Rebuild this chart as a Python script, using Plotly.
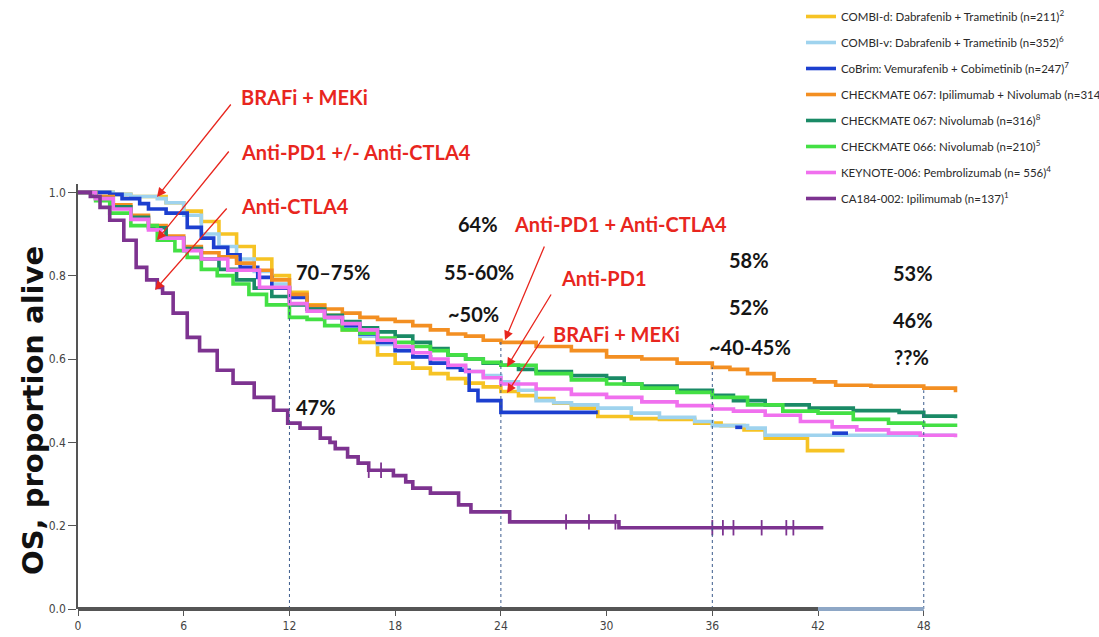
import plotly.graph_objects as go

# ---------------- data ----------------
months_ticks = [0, 6, 12, 18, 24, 30, 36, 42, 48]
surv_ticks = [0.0, 0.2, 0.4, 0.6, 0.8, 1.0]

combi_d_t = [0, 1, 2, 3, 4, 5, 6, 7, 8, 9, 10, 11, 12, 13, 14, 15, 16, 17, 18, 19, 20, 21, 22, 23, 24,
             25, 26, 27, 28, 29.5, 31.4, 33, 35, 36.5, 37.8, 39, 41.4, 43.5]
combi_d_s = [1.0, 1.0, 0.995, 0.99, 0.99, 0.975, 0.955, 0.93, 0.90, 0.87, 0.84, 0.80, 0.76, 0.73, 0.705,
             0.67, 0.64, 0.61, 0.59, 0.578, 0.565, 0.553, 0.542, 0.533, 0.522,
             0.512, 0.505, 0.494, 0.482, 0.462, 0.457, 0.455, 0.446, 0.44, 0.43, 0.41, 0.38, 0.38]

combi_v_t = [0, 1, 2, 3, 4, 4.5, 5, 6, 7, 8, 9, 10, 11, 12, 13, 14, 15, 16, 17, 18, 19, 20, 21, 22, 23,
             24, 25, 26, 27, 28, 29.5, 31.4, 33, 35, 36, 37, 38, 39, 49.8]
combi_v_s = [1.0, 1.0, 0.995, 0.99, 0.99, 0.985, 0.975, 0.945, 0.90, 0.87, 0.84, 0.81, 0.78, 0.75, 0.72,
             0.70, 0.675, 0.655, 0.635, 0.62, 0.605, 0.59, 0.58, 0.57, 0.56,
             0.545, 0.525, 0.50, 0.495, 0.49, 0.482, 0.47, 0.46, 0.45, 0.44, 0.44, 0.434, 0.417, 0.417]

cobrim_t = [0, 1, 1.8, 2.5, 3.5, 4, 5, 6.2, 7, 7.7, 8.5, 9.2, 10.2, 11, 12, 13, 14, 15, 16, 17, 18, 19,
            20, 21, 21.7, 22.2, 22.7, 24, 29.5, None, 37.3, 37.7, None, 42.8, 43.7]
cobrim_s = [1.0, 1.0, 0.995, 0.985, 0.973, 0.96, 0.95, 0.916, 0.89, 0.868, 0.85, 0.82, 0.796, 0.77,
            0.748, 0.72, 0.70, 0.68, 0.66, 0.64, 0.62, 0.605, 0.59, 0.58, 0.573, 0.525, 0.50, 0.472,
            0.472, None, 0.436, 0.436, None, 0.422, 0.422]

cm067_combo_t = [0, 1, 2, 3, 4, 5, 6, 7, 8, 9, 10, 11, 12, 13, 14, 15, 16, 17, 18, 19, 20, 21, 22, 23,
                 24, 26, 28, 30, 32, 34, 36, 37, 38, 39.5, 41.8, 43, 45, 48, 49.8]
cm067_combo_s = [1.0, 0.99, 0.97, 0.945, 0.92, 0.895, 0.87, 0.855, 0.845, 0.83, 0.813, 0.79, 0.755,
                 0.728, 0.72, 0.71, 0.70, 0.695, 0.69, 0.68, 0.67, 0.66, 0.655, 0.645,
                 0.64, 0.63, 0.62, 0.605, 0.60, 0.59, 0.58, 0.575, 0.565, 0.55, 0.545, 0.537, 0.535,
                 0.53, 0.52]

cm067_nivo_t = [0, 1, 2, 3, 4, 5, 6, 7, 8, 9, 10, 11, 12, 13, 14, 15, 16, 17, 18, 19, 20, 21, 22, 23,
                24, 25, 26, 28, 30, 31, 32, 34, 36, 37.2, 39, 41.5, 44, 46.6, 48, 49.8]
cm067_nivo_s = [1.0, 0.985, 0.965, 0.94, 0.915, 0.89, 0.865, 0.84, 0.815, 0.79, 0.77, 0.75, 0.73, 0.72,
                0.705, 0.69, 0.675, 0.665, 0.655, 0.64, 0.625, 0.61, 0.60, 0.59,
                0.585, 0.575, 0.57, 0.56, 0.554, 0.54, 0.535, 0.525, 0.513, 0.50, 0.49, 0.482, 0.476,
                0.472, 0.463, 0.458]

cm066_nivo_t = [0, 1, 1.8, 3, 4.5, 5.5, 6.2, 7, 7.9, 8.8, 9.7, 10.7, 12, 13, 14, 15, 16, 17, 18, 19,
                20, 21, 22, 23, 24, 26, 28, 30, 32, 34, 36, 38, 40, 42, 44, 46, 48, 49.8]
cm066_nivo_s = [1.0, 0.98, 0.95, 0.92, 0.885, 0.86, 0.844, 0.815, 0.80, 0.78, 0.755, 0.73, 0.70, 0.695,
                0.68, 0.67, 0.662, 0.65, 0.64, 0.63, 0.62, 0.61, 0.60, 0.592, 0.585, 0.565, 0.55,
                0.54, 0.53, 0.52, 0.508, 0.49, 0.475, 0.47, 0.455, 0.446, 0.441, 0.437]

kn006_t = [0, 1, 2, 3, 4, 4.7, 6, 7, 8.5, 10.3, 12, 13, 14, 15, 16, 17, 18, 19, 20, 21, 22, 23, 24,
           26, 28, 30, 32, 34, 36, 37.2, 39, 41, 42.8, 44.2, 46, 47.8, 49.8]
kn006_s = [1.0, 0.985, 0.96, 0.935, 0.91, 0.89, 0.86, 0.84, 0.813, 0.772, 0.733, 0.715, 0.70, 0.685,
           0.67, 0.645, 0.63, 0.615, 0.60, 0.585, 0.57, 0.555, 0.54, 0.528, 0.515, 0.508, 0.497,
           0.488, 0.48, 0.475, 0.465, 0.45, 0.437, 0.43, 0.422, 0.417, 0.412]

ca184_t = [0, 0.7, 1.25, 1.8, 2.6, 3.3, 3.9, 4.5, 4.8, 5.4, 6.2, 6.9, 7.9, 8.8, 10, 11.1, 11.9, 12.6,
           13.75, 14.3, 14.6, 15.3, 15.9, 16.5, 17.9, 18.6, 19, 20, 21.6, 22.3, 24.5, 30.7, 42.3]
ca184_s = [1.0, 0.99, 0.964, 0.933, 0.885, 0.82, 0.79, 0.772, 0.758, 0.71, 0.652, 0.62, 0.573, 0.542,
           0.508, 0.477, 0.446, 0.434, 0.41, 0.40, 0.385, 0.365, 0.35, 0.333, 0.32, 0.305, 0.29,
           0.278, 0.25, 0.233, 0.209, 0.195, 0.195]

ca184_cens_t = [16.5, 17.2, 27.7, 29.0, 30.5, 36.0, 36.6, 37.2, 38.8, 40.2, 40.6]
ca184_cens_s = [0.333, 0.333, 0.209, 0.209, 0.209, 0.195, 0.195, 0.195, 0.195, 0.195, 0.195]

ref_months = [12, 24, 36, 48]
ref_tops = [0.76, 0.645, 0.58, 0.525]

series_names = [
    "COMBI-d: Dabrafenib + Trametinib (n=211)<sup>2</sup>",
    "COMBI-v: Dabrafenib + Trametinib (n=352)<sup>6</sup>",
    "CoBrim: Vemurafenib + Cobimetinib (n=247)<sup>7</sup>",
    "CHECKMATE 067: Ipilimumab + Nivolumab (n=314",
    "CHECKMATE 067: Nivolumab (n=316)<sup>8</sup>",
    "CHECKMATE 066: Nivolumab (n=210)<sup>5</sup>",
    "KEYNOTE-006: Pembrolizumab (n= 556)<sup>4</sup>",
    "CA184-002: Ipilimumab (n=137)<sup>1</sup>",
]
series_colors = ["#F6C324", "#9FD3EE", "#1C3FCF", "#F38F22", "#1A8A66", "#43E044", "#F070EE", "#7D3390"]
series_t = [combi_d_t, combi_v_t, cobrim_t, cm067_combo_t, cm067_nivo_t, cm066_nivo_t, kn006_t, ca184_t]
series_s = [combi_d_s, combi_v_s, cobrim_s, cm067_combo_s, cm067_nivo_s, cm066_nivo_s, kn006_s, ca184_s]

# ---------------- figure ----------------
LABEL_FONT = "Lato, DejaVu Sans Condensed, sans-serif"
TICK_FONT = "DejaVu Sans Condensed, Liberation Sans Narrow, sans-serif"
L, R, T, B = 78, 140, 184, 28
W, H = 1099, 637
XR = [0, 50]
YR = [0, 1.02]
pw = W - L - R
ph = H - T - B


def px2paper(px, py):
    return (px - L) / pw, (H - B - py) / ph


def px2data(px, py):
    x = XR[0] + (px - L) / pw * (XR[1] - XR[0])
    y = YR[0] + (H - B - py) / ph * (YR[1] - YR[0])
    return x, y


fig = go.Figure()
for name, col, t, s in zip(series_names, series_colors, series_t, series_s):
    fig.add_trace(go.Scatter(x=t, y=s, mode="lines", name=name, legendgroup=name,
                             line=dict(color=col, width=3.6, shape="hv"), connectgaps=False))

fig.add_trace(go.Scatter(x=ca184_cens_t, y=ca184_cens_s, mode="markers", showlegend=False,
                         marker=dict(symbol="line-ns", size=11, line=dict(color=series_colors[7], width=1.8))))

# reference dashed lines
for m, top in zip(ref_months, ref_tops):
    fig.add_shape(type="line", xref="x", yref="y", x0=m, x1=m, y0=0, y1=top,
                  line=dict(color="#3B5B8C", width=1, dash="3px,3px"), layer="above")

# x-axis line (dark to 42, light steel-blue to 48)
fig.add_shape(type="line", xref="x", yref="paper", x0=0, x1=42, y0=0, y1=0,
              line=dict(color="#555555", width=4), layer="above")
fig.add_shape(type="line", xref="x", yref="paper", x0=42, x1=48, y0=0, y1=0,
              line=dict(color="#8EA7C6", width=4), layer="above")

# red class labels with arrows
red = "#E8261E"
red_labels = [
    ("BRAFi + MEKi", 240, 97),
    ("Anti-PD1 +/- Anti-CTLA4", 240, 152),
    ("Anti-CTLA4", 240, 206),
    ("Anti-PD1 + Anti-CTLA4", 513, 224),
    ("Anti-PD1", 560, 278),
    ("BRAFi + MEKi", 552, 334),
]
for txt, px, py in red_labels:
    x, y = px2paper(px, py)
    fig.add_annotation(x=x, y=y, xref="paper", yref="paper", text="<b>" + txt + "</b>", showarrow=False,
                       xanchor="left", yanchor="middle", borderpad=0,
                       font=dict(family=LABEL_FONT, size=20, color=red))

arrows = [
    ((232, 103), (157, 197)),
    ((230, 150), (157, 240)),
    ((228, 207), (155, 290)),
    ((545, 245), (505, 340)),
    ((552, 293), (507, 367)),
    ((545, 335), (507, 393)),
]
for (sx, sy), (tx, ty) in arrows:
    x, y = px2data(tx, ty)
    fig.add_annotation(x=x, y=y, xref="x", yref="y", text="", showarrow=True,
                       ax=sx - tx, ay=sy - ty, arrowhead=2, arrowsize=1.4, arrowwidth=1.3,
                       arrowcolor=red, standoff=0, startstandoff=0)

black_labels = [
    ("70–75%", 295, 272), ("47%", 295, 407),
    ("64%", 457, 224), ("55-60%", 443, 272), ("~50%", 447, 314),
    ("58%", 728, 260), ("52%", 728, 307), ("~40-45%", 708, 347),
    ("53%", 892, 273), ("46%", 892, 320), ("??%", 893, 357),
]
for txt, px, py in black_labels:
    x, y = px2paper(px, py)
    fig.add_annotation(x=x, y=y, xref="paper", yref="paper", text="<b>" + txt + "</b>", showarrow=False,
                       xanchor="left", yanchor="middle", borderpad=0,
                       font=dict(family=LABEL_FONT, size=20, color="#151515"))

# y-axis title
tx, ty = px2paper(33, 411)
fig.add_annotation(x=tx, y=ty, xref="paper", yref="paper",
                   text="<b>OS, proportion alive</b>", textangle=-90, showarrow=False,
                   xanchor="center", yanchor="middle",
                   font=dict(family="DejaVu Sans, Verdana, sans-serif", size=29, color="#111111"))

fig.update_xaxes(range=XR, tickmode="array", tickvals=months_ticks, ticktext=[str(v) for v in months_ticks],
                 showgrid=False, zeroline=False, showline=False, automargin=False,
                 ticks="outside", ticklen=6, tickwidth=1, tickcolor="#555555",
                 tickfont=dict(family=TICK_FONT, size=12, color="#444444"))
fig.update_yaxes(range=YR, tickmode="array", tickvals=surv_ticks, ticktext=["%.1f" % v for v in surv_ticks],
                 showgrid=False, zeroline=False, showline=True, linecolor="#555555", linewidth=1.5,
                 automargin=False,
                 ticks="outside", ticklen=8, tickwidth=1, tickcolor="#555555",
                 tickfont=dict(family=TICK_FONT, size=12, color="#444444"))

lx, ly = px2paper(801, 2)
fig.update_layout(
    width=W, height=H, autosize=False,
    margin=dict(l=L, r=R, t=T, b=B, autoexpand=False),
    plot_bgcolor="white", paper_bgcolor="white",
    showlegend=True,
    legend=dict(x=lx, y=ly, xanchor="left", yanchor="top",
                bgcolor="rgba(0,0,0,0)", tracegroupgap=7, itemwidth=30,
                font=dict(family=LABEL_FONT, size=11.5, color="#2A2A2A")),
)

fig.write_html("out.html")
